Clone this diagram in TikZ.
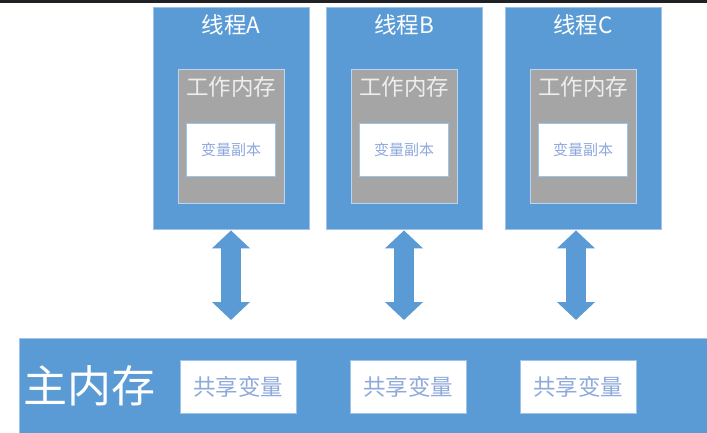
\documentclass[tikz,border=0pt]{standalone}
\usepackage{fontspec}
\newfontfamily\cjk{Noto Sans CJK SC}
\usetikzlibrary{arrows.meta,positioning}
\definecolor{myblue}{HTML}{5B9BD5}
\definecolor{myedge}{HTML}{9DC3E6}
\definecolor{mygray}{HTML}{A5A5A5}
\definecolor{mytext}{HTML}{8EA9DB}
\definecolor{mybar}{HTML}{202124}

\begin{document}
\begin{tikzpicture}[x=1pt, y=-1pt,
    every node/.style={font=\cjk, inner sep=0pt},
    thread/.style={fill=myblue, draw=myedge, line width=0.8pt, minimum width=156pt, minimum height=222pt},
    work/.style={fill=mygray, draw=myedge!70, line width=0.8pt, minimum width=106pt, minimum height=134pt},
    copybox/.style={fill=white, draw=myedge, line width=0.8pt, minimum width=89pt, minimum height=53pt,
      font=\cjk\fontsize{15}{15}\selectfont, text=mytext},
    title/.style={font=\cjk\fontsize{22.5}{22.5}\selectfont, text=white},
    worklab/.style={font=\cjk\fontsize{22.5}{22.5}\selectfont, text=white!93!black},
    mem/.style={fill=myblue, draw=myedge, line width=0.8pt, minimum width=700pt, minimum height=100pt},
    memlab/.style={font=\cjk\fontsize{44}{44}\selectfont, text=white},
    share/.style={fill=white, draw=myedge, line width=0.8pt, minimum width=116pt, minimum height=53pt,
      font=\cjk\fontsize{22.5}{22.5}\selectfont, text=mytext},
    dbl/.style={draw=myblue, line width=20pt,
      arrows={Triangle[width=37pt,length=18pt]-Triangle[width=37pt,length=18pt]},
      shorten <=1pt, shorten >=18pt}
  ]
  \useasboundingbox (0,0) rectangle (707,432);
  \fill[mybar] (0,0) rectangle (707,3);
  % threads
  \foreach \n/\x in {A/231,B/404,C/583}{
    \node[thread] (t\n) at (\x,118) {};
    \node[title] (n\n) at (\x,25) {线程\n};
    \node[work] (w\n) at (\x,136) {};
    \node[worklab] (l\n) at (\x,87) {工作内存};
    \node[copybox] (c\n) at (\x,150) {变量副本};
  }
  % main memory
  \node[mem, anchor=north west] (mem) at (19,338) {};
  \node[memlab, anchor=west] (ml) at (23,386) {主内存};
  \foreach \i/\x in {1/238,2/408,3/578}
    \node[share] (s\i) at (\x,387) {共享变量};
  \draw[dbl] (tA.south) -- (tA.south |- mem.north);
  \draw[dbl] (tB.south) -- (tB.south |- mem.north);
  \draw[dbl] ([xshift=-7pt]tC.south) -- ([xshift=-7pt]tC.south |- mem.north);
\end{tikzpicture}
\end{document}
